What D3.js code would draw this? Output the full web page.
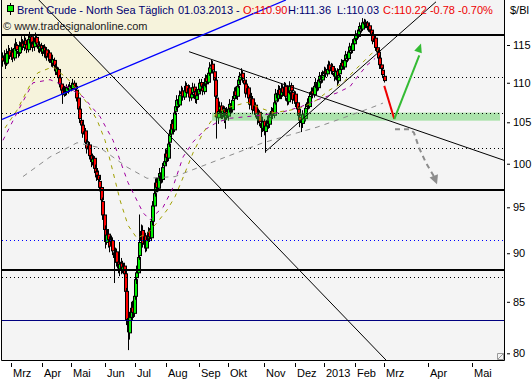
<!DOCTYPE html>
<html>
<head>
<meta charset="utf-8">
<script src="https://cdn.jsdelivr.net/npm/d3@7"></script>
<style>
  body { margin: 0; background: #fff; }
  svg { display: block; font-family: "Liberation Sans", Arial, sans-serif; }
</style>
</head>
<body>
<div id="chart"></div>
<script>
// bar index 0 = 01.03.2012 (weekdays), the first bar on screen is -6
var firstBar = -6;

var opens = [113.4,112.8,113.5,112.5,113.8,114.3,
  113.4,114.1,113.2,114.7,115.0,114.2,113.9,114.8,115.3,114.6,
  115.7,115.1,114.3,115.7,116.2,115.2,114.7,115.4,116.1,115.1,
  114.4,115.0,114.0,114.7,113.7,114.4,113.3,114.0,113.1,112.5,
  113.0,112.1,111.3,111.8,110.7,109.9,109.1,108.4,109.3,108.8,
  109.5,109.0,109.7,109.2,110.0,109.6,109.1,108.1,106.7,105.3,
  104.7,103.5,104.0,102.4,101.7,102.3,101.0,100.1,100.7,99.5,
  99.1,98.7,98.0,97.3,95.7,94.2,92.6,91.1,92.1,91.3,
  90.8,91.4,90.1,89.4,90.2,89.1,88.3,89.0,88.1,88.7,
  87.9,86.1,83.4,81.9,83.4,84.5,83.8,85.5,87.4,87.9,
  89.7,91.3,92.5,90.9,91.9,90.5,91.5,92.4,91.6,93.4,
  95.1,96.7,97.9,97.1,98.5,99.0,98.1,99.7,100.2,101.3,
  100.6,102.5,103.5,104.9,104.0,106.3,106.9,107.9,107.1,108.5,
  109.0,108.1,109.1,109.7,108.6,109.4,108.0,108.7,109.5,108.9,
  107.8,108.5,109.1,110.1,109.4,108.8,109.8,110.7,110.0,111.2,
  112.1,112.5,111.5,110.4,108.1,105.5,106.5,107.1,105.8,106.6,
  105.5,106.4,105.7,106.8,107.4,106.5,107.9,109.0,108.2,109.7,
  110.3,110.9,111.3,110.4,109.9,108.5,109.4,108.1,107.1,108.0,
  106.4,107.2,105.9,105.3,106.3,104.9,104.2,105.2,103.8,104.5,
  105.4,104.7,105.8,106.5,105.8,107.6,108.7,107.9,109.2,108.3,
  109.4,108.6,109.6,108.1,107.5,108.9,109.7,108.8,107.7,108.6,
  107.5,106.7,105.7,105.3,104.8,106.1,105.4,106.9,107.6,106.9,
  108.4,109.0,108.4,109.7,110.1,109.3,110.4,111.0,110.3,111.1,
  111.6,111.1,111.9,112.4,111.5,112.2,111.3,110.7,111.6,110.2,
  111.1,111.7,112.7,112.0,113.1,113.8,113.1,114.2,114.9,114.2,
  115.1,115.8,116.6,116.1,117.1,117.7,117.1,118.2,117.7,118.1,
  117.2,117.7,117.1,116.5,115.4,116.0,114.7,114.1,113.3,112.4,
  111.7,110.90];

var highs = [114.0,114.3,113.9,114.5,115.0,114.6,
  114.7,114.5,115.2,115.9,115.4,114.8,115.5,116.2,115.8,116.3,
  116.0,115.6,116.3,116.8,116.5,115.5,116.0,116.7,116.4,115.4,
  115.5,115.3,115.0,115.1,114.8,114.7,114.4,114.3,113.6,113.7,
  113.3,112.5,112.4,112.0,111.0,110.2,109.4,109.6,109.5,109.8,
  109.8,110.1,110.0,110.5,110.3,109.9,109.4,108.5,107.0,105.8,
  105.1,104.6,104.3,102.9,102.7,102.6,101.3,101.2,100.9,99.9,
  99.6,99.2,98.5,97.6,96.1,94.6,93.0,92.7,92.6,91.8,
  91.9,91.7,90.6,90.6,90.5,89.4,91.2,89.5,89.2,89.0,
  88.2,86.4,83.9,84.0,85.0,85.1,86.1,87.8,88.7,90.1,
  94.2,93.1,93.0,92.3,92.2,91.9,92.8,92.7,94.0,95.7,
  97.1,98.3,98.4,98.9,99.5,99.4,100.1,100.8,101.8,101.7,
  102.9,104.1,105.3,105.4,106.7,107.5,108.4,108.2,109.0,109.6,
  109.4,109.5,110.2,110.0,109.8,109.7,109.2,110.0,109.9,109.2,
  108.9,109.7,110.5,110.5,109.9,110.2,111.1,111.0,111.8,112.7,
  113.0,112.9,111.8,110.7,108.4,106.9,107.6,107.5,106.9,107.0,
  106.8,106.9,107.2,107.9,107.7,108.3,109.4,109.5,110.2,110.9,
  111.4,111.9,111.6,110.7,110.2,109.8,109.6,108.5,108.7,108.3,
  107.6,107.5,106.3,106.7,106.5,105.3,105.7,105.4,105.0,105.8,
  105.9,106.2,106.9,106.8,108.0,109.2,109.0,109.7,109.6,109.9,
  109.8,110.1,110.0,108.6,109.3,110.2,110.0,109.1,109.0,108.9,
  107.9,107.0,106.2,105.8,106.5,106.6,107.3,108.0,108.1,108.8,
  109.4,109.4,110.1,110.6,110.4,110.8,111.4,111.4,111.6,112.1,
  112.0,112.4,112.9,112.8,112.6,112.5,111.7,111.9,111.9,111.5,
  112.3,113.1,113.0,113.5,114.2,114.1,114.6,115.3,115.2,115.8,
  116.4,117.0,117.1,117.5,118.1,118.0,118.7,118.6,118.5,118.3,
  118.0,118.0,117.4,116.8,116.3,116.3,115.0,114.4,113.6,112.8,
  112.0,111.36];

var lows = [112.1,112.5,111.8,112.2,113.4,113.1,
  113.0,112.7,112.9,114.2,114.0,113.3,113.5,114.4,114.3,114.2,
  114.6,113.9,114.0,115.2,115.0,114.1,114.2,115.1,114.9,114.0,
  113.9,113.8,113.5,113.3,113.2,112.9,112.8,112.6,112.1,112.0,
  111.7,111.0,111.0,110.3,109.4,108.6,107.3,108.2,108.3,108.5,
  108.6,108.8,108.9,109.0,109.1,108.6,107.6,106.2,104.9,104.0,
  103.1,103.0,102.0,101.2,101.3,100.5,99.6,99.8,98.9,98.4,
  98.0,97.6,96.8,95.3,93.6,92.0,90.5,90.9,90.6,90.1,
  90.4,89.8,86.9,89.0,88.6,87.9,87.6,87.8,87.9,87.2,
  85.6,82.7,80.3,81.3,83.0,83.2,83.5,85.2,86.8,87.5,
  89.3,90.8,90.6,90.5,90.1,90.2,91.1,91.2,91.3,93.0,
  94.7,96.2,96.7,96.8,98.0,97.7,97.8,99.3,99.9,100.2,
  100.3,102.0,103.2,103.6,103.8,105.9,106.5,106.8,106.9,108.0,
  107.7,107.8,108.7,108.3,108.2,107.6,107.7,108.4,108.3,107.4,
  107.3,108.1,108.8,109.0,108.4,108.5,109.4,109.7,109.8,110.9,
  111.6,111.2,109.9,107.6,103.0,104.8,106.0,105.4,105.4,104.9,
  104.2,105.3,105.2,106.2,106.1,106.2,107.5,107.9,107.8,109.3,
  109.9,110.4,110.0,109.2,108.1,108.2,107.6,106.6,106.7,106.0,
  105.9,105.6,104.7,104.9,104.5,103.2,103.8,103.4,101.3,104.1,
  104.2,104.3,105.4,105.4,105.5,107.2,107.5,107.6,108.0,107.9,
  108.2,108.3,107.7,107.1,107.2,108.5,108.4,107.3,107.3,106.9,
  106.2,105.3,104.4,103.8,104.3,105.0,105.1,106.5,106.6,106.7,
  107.9,108.0,108.1,109.3,108.9,109.0,110.0,109.9,110.0,110.7,
  110.7,110.8,111.5,111.2,111.1,111.0,110.2,110.4,109.6,109.9,
  110.7,111.4,111.7,111.7,112.8,112.7,112.9,113.9,113.8,113.9,
  114.8,115.5,115.7,115.9,116.8,116.7,116.9,117.3,117.3,117.0,
  116.8,116.7,116.0,115.1,115.0,114.2,113.4,112.7,111.8,111.1,
  110.6,110.03];

var closes = [112.8,113.6,112.4,113.9,114.2,113.5,
  114.0,113.2,114.6,115.1,114.3,113.8,114.9,115.4,114.7,115.6,
  115.0,114.4,115.8,116.1,115.3,114.6,115.5,116.0,115.2,114.5,
  114.9,114.1,114.6,113.8,114.3,113.4,113.9,113.0,112.6,113.1,
  112.2,111.5,111.9,110.6,109.8,109.0,108.5,109.2,108.7,109.4,
  109.1,109.6,109.3,109.9,109.5,109.2,108.0,106.6,105.4,104.6,
  103.6,103.9,102.5,101.8,102.2,100.9,100.2,100.6,99.4,99.0,
  98.6,98.1,97.2,95.8,94.1,92.5,91.2,92.0,91.4,90.7,
  91.3,90.2,89.5,90.1,89.0,88.4,88.9,88.2,88.6,87.8,
  86.0,83.2,82.0,83.5,84.4,83.9,85.6,87.3,88.0,89.6,
  91.2,92.4,91.0,91.8,90.6,91.4,92.3,91.7,93.5,95.2,
  96.6,97.8,97.2,98.4,98.9,98.2,99.6,100.3,101.2,100.7,
  102.4,103.6,104.8,104.1,106.2,107.0,107.8,107.2,108.4,108.9,
  108.2,109.0,109.6,108.7,109.3,108.1,108.6,109.4,108.8,107.9,
  108.4,109.2,110.0,109.5,108.9,109.7,110.6,110.1,111.3,112.0,
  112.4,111.6,110.3,108.2,105.6,106.4,107.0,105.9,106.5,105.6,
  106.3,105.8,106.7,107.3,106.6,107.8,108.9,108.3,109.6,110.4,
  110.8,111.2,110.5,109.8,108.6,109.3,108.0,107.2,107.9,106.5,
  107.1,106.0,105.4,106.2,105.0,104.3,105.1,103.9,104.6,105.3,
  104.8,105.7,106.4,105.9,107.5,108.6,108.0,109.1,108.4,109.3,
  108.7,109.5,108.2,107.6,108.8,109.6,108.9,107.8,108.5,107.4,
  106.6,105.8,105.2,104.9,106.0,105.5,106.8,107.5,107.0,108.3,
  108.9,108.5,109.6,110.0,109.4,110.3,110.9,110.4,111.0,111.5,
  111.2,111.8,112.3,111.6,112.1,111.4,110.8,111.5,110.3,111.0,
  111.8,112.6,112.1,113.0,113.7,113.2,114.1,114.8,114.3,115.2,
  115.9,116.5,116.2,117.0,117.6,117.2,118.1,117.8,118.0,117.3,
  117.6,117.0,116.4,115.5,115.9,114.6,114.0,113.2,112.3,111.8,
  111.00,110.22];

// averages: [bar index, price]
var maFast = [[-4,104.3],[4.4,106.5],[13.5,109.7],[19,111.3],[29.6,112.1],[34.5,111.3],[39.4,110.6],
  [46.4,109.1],[53.4,107.4],[60.4,105.3],[66,102.8],[70.9,99.5],[76.5,95.8],[82.1,93.0],[88.4,91.6],
  [96.1,92.2],[102.4,93.3],[109.4,94.7],[115,96.2],[119.9,98.1],[127.6,101.3],[134.6,103.7],
  [144.4,106.2],[153.5,106.9],[165.4,107.5],[174.5,106.8],[183.6,106.2],[195.5,106.5],[204.6,106.9],
  [214.3,107.8],[223.4,109.1],[232.6,110.0],[237.4,111.0],[246.5,112.7],[252.8,113.9],[257,114.3]];
var maMid = [[-5.4,102.8],[6.5,106.9],[15.6,110.0],[27.5,110.4],[39.4,109.5],[50.6,108.2],[62.5,105.7],
  [71.6,102.8],[76.5,100.4],[82.1,97.8],[87,96.2],[92.6,94.4],[97.5,93.6],[101,94.2],[106.6,95.0],
  [112.9,97.0],[120.6,100.8],[127.6,102.6],[136,104.1],[144.4,105.0],[153.5,105.5],[165.4,105.7],
  [176.6,105.9],[190.6,106.3],[202.5,106.9],[214.3,107.8],[228.4,108.7],[237.4,109.5],[242.3,110.7],
  [249.3,112.3],[255,113.2]];
var maSlow = [[8.6,98.5],[27.5,100.8],[46.4,102.5],[62.5,101.9],[81.4,99.6],[95.4,98.3],[115,98.5],
  [144.4,100.4],[176.6,102.5],[200.4,103.7],[214.4,104.4],[230.4,105.4],[253.5,106.9],[260.5,107.4]];

// horizontal levels
var thickLevels = [116.36, 96.9, 88.2];
var dottedLevels = [110.7, 106.2, 101.9, 87.5];
var blueDottedLevel = 91.4;
var navyLevel = 83.2;
var zoneBars = [140.9, 342.4];
var zonePrices = [105.2, 106.2];

// trend lines [bar index, price]
var blueLine = [[-6.1,105.35],[192.6,121.26]];
var fanLine = [[19.5,121.3],[262.6,79.37]];
var downLine = [[124.8,114.1],[345.2,100.4]];
var upLine = [[178,101.4],[297.6,121.0]];

// forecast arrows
var redLeg = [[261.4,109.6],[268.4,105.4]];
var greenLeg = [[268.4,105.4],[287.1,115.2]];
var greyLeg = [[268.9,104.13],[279.4,104.13],[282.2,103.7],[285.7,101.9],[290.6,100.1],[296.2,98.5],[298.3,97.6]];

var monthLabels = ["Mrz","Apr","Mai","Jun","Jul","Aug","Sep","Okt","Nov","Dez","2013","Feb","Mrz","Apr","Mai"];
var monthBars = [0,22,42,66,87,109,132,152,177,199,219,241,261,292,323];
var priceTicks = [80,85,90,95,100,105,110,115];

var svgWidth = 532, svgHeight = 380;
var plotLeft = 2, plotRight = 504, plotTop = 0, plotBottom = 360;

var svg = d3.select("#chart").append("svg")
  .attr("width", svgWidth)
  .attr("height", svgHeight);

var xScale = d3.scaleLinear().domain([0, 261]).range([10.7, 383.7]);
var yScale = d3.scaleLog().domain([80, 115]).range([353.3, 45]);

svg.append("defs").append("clipPath").attr("id", "plotClip")
  .append("rect")
  .attr("x", plotLeft).attr("y", plotTop)
  .attr("width", plotRight - plotLeft).attr("height", plotBottom - plotTop);

svg.append("rect")
  .attr("x", plotLeft).attr("y", plotTop)
  .attr("width", plotRight - plotLeft).attr("height", plotBottom - plotTop)
  .attr("fill", "#f4f4f4");

var plot = svg.append("g").attr("clip-path", "url(#plotClip)");

function px(d) { return [xScale(d[0]), yScale(d[1])]; }

// x on a line (pixel space) for a given y
function xAtY(line, yy) {
  var a = px(line[0]), b = px(line[1]);
  return a[0] + (yy - a[1]) * (b[0] - a[0]) / (b[1] - a[1]);
}
function yAtX(line, xx) {
  var a = px(line[0]), b = px(line[1]);
  return a[1] + (xx - a[0]) * (b[1] - a[1]) / (b[0] - a[0]);
}

// beige fan area between blue and black line
var stripY = yScale(thickLevels[0]);
var b0 = px(blueLine[0]), b1 = px(blueLine[1]), f0 = px(fanLine[0]), f1 = px(fanLine[1]);
var mb = (b1[1] - b0[1]) / (b1[0] - b0[0]), mf = (f1[1] - f0[1]) / (f1[0] - f0[0]);
var ix = (f0[1] - b0[1] + mb * b0[0] - mf * f0[0]) / (mb - mf);
var iy = b0[1] + mb * (ix - b0[0]);
var beige = [[plotLeft, plotTop], [xAtY(blueLine, plotTop), plotTop], [xAtY(blueLine, stripY), stripY],
  [xAtY(fanLine, stripY), stripY], [ix, iy], [plotLeft, yAtX(blueLine, plotLeft)]];
plot.append("path")
  .attr("d", d3.line()(beige))
  .attr("fill", "#f6f3dc");

// candles
var bars = closes.map(function(c, i) {
  return {idx: firstBar + i, open: opens[i], high: highs[i], low: lows[i], close: c};
});

var candles = plot.append("g").selectAll("g")
  .data(bars)
  .enter()
  .append("g");

candles.append("line")
  .attr("x1", d => Math.round(xScale(d.idx)) + 0.5)
  .attr("x2", d => Math.round(xScale(d.idx)) + 0.5)
  .attr("y1", d => yScale(d.high))
  .attr("y2", d => yScale(d.low))
  .attr("stroke", "#000")
  .attr("stroke-width", 1);

candles.append("rect")
  .attr("x", d => Math.round(xScale(d.idx)) - 1)
  .attr("y", d => Math.min(yScale(d.open), yScale(d.close)))
  .attr("width", 4)
  .attr("height", d => Math.max(1, Math.abs(yScale(d.open) - yScale(d.close))))
  .attr("fill", "#000");

candles.filter(d => Math.abs(yScale(d.open) - yScale(d.close)) > 2)
  .append("rect")
  .attr("x", d => Math.round(xScale(d.idx)))
  .attr("y", d => Math.min(yScale(d.open), yScale(d.close)) + 1)
  .attr("width", 2)
  .attr("height", d => Math.abs(yScale(d.open) - yScale(d.close)) - 2)
  .attr("fill", d => d.close >= d.open ? "#00f000" : "#ff0000");

// support zone
plot.append("rect")
  .attr("x", xScale(zoneBars[0]))
  .attr("y", yScale(zonePrices[1]))
  .attr("width", xScale(zoneBars[1]) - xScale(zoneBars[0]))
  .attr("height", yScale(zonePrices[0]) - yScale(zonePrices[1]))
  .attr("fill", "rgb(70,200,70)")
  .attr("opacity", 0.42);

// horizontal levels
function hLine(price, color, width, dash) {
  var yy = Math.round(yScale(price)) + (width % 2 ? 0.5 : 0);
  plot.append("line")
    .attr("x1", plotLeft).attr("x2", plotRight)
    .attr("y1", yy).attr("y2", yy)
    .attr("stroke", color)
    .attr("stroke-width", width)
    .attr("stroke-dasharray", dash || null);
}
dottedLevels.forEach(p => hLine(p, "#000", 1, "1,3"));
hLine(blueDottedLevel, "#0000ff", 1, "1,3");
hLine(navyLevel, "#000080", 1);
thickLevels.forEach(p => hLine(p, "#000", 2));

// trend lines
var line = d3.line().x(d => xScale(d[0])).y(d => yScale(d[1]));
plot.append("path").attr("d", line(blueLine)).attr("stroke", "#0000ff").attr("stroke-width", 1.3).attr("fill", "none");
[fanLine, downLine, upLine].forEach(function(l) {
  plot.append("path").attr("d", line(l)).attr("stroke", "#000").attr("stroke-width", 1).attr("fill", "none");
});

// moving averages
plot.append("path").attr("d", line(maSlow)).attr("stroke", "#8c8c8c").attr("stroke-width", 1)
  .attr("stroke-dasharray", "5,5").attr("fill", "none");
plot.append("path").attr("d", line(maMid)).attr("stroke", "#a000a0").attr("stroke-width", 1)
  .attr("stroke-dasharray", "4,5").attr("fill", "none");
plot.append("path").attr("d", line(maFast)).attr("stroke", "#a0a000").attr("stroke-width", 1)
  .attr("stroke-dasharray", "4,5").attr("fill", "none");

// forecast arrows
function arrowHead(pts, color, len, half) {
  var a = px(pts[pts.length - 2]), b = px(pts[pts.length - 1]);
  var dx = b[0] - a[0], dy = b[1] - a[1], n = Math.sqrt(dx * dx + dy * dy);
  dx /= n; dy /= n;
  var bx = b[0] - dx * len, by = b[1] - dy * len;
  plot.append("path")
    .attr("d", d3.line()([[b[0], b[1]], [bx - dy * half, by + dx * half], [bx + dy * half, by - dx * half]]) + "Z")
    .attr("fill", color);
}
plot.append("path").attr("d", line(redLeg)).attr("stroke", "#ee0000").attr("stroke-width", 2).attr("fill", "none");
plot.append("path").attr("d", line(greenLeg.slice(0, 1).concat([[greenLeg[1][0] - 1.2, greenLeg[1][1] - 1.6]])))
  .attr("stroke", "#33bb33").attr("stroke-width", 2).attr("fill", "none");
arrowHead(greenLeg, "#33bb33", 9, 4);
plot.append("path").attr("d", line(greyLeg.slice(0, -1))).attr("stroke", "#8c8c8c").attr("stroke-width", 2)
  .attr("stroke-dasharray", "5,4").attr("fill", "none");
arrowHead(greyLeg, "#8c8c8c", 9, 4.5);

// frame
svg.append("path")
  .attr("d", "M1.5,0V360.5H504.5V0")
  .attr("fill", "none").attr("stroke", "#000");
svg.append("path")
  .attr("d", "M497.5,353.5h6v6h-6zM498,359L503.5,353.5")
  .attr("fill", "none").attr("stroke", "#999");

// price axis
var yAxis = svg.append("g")
  .attr("transform", "translate(507,0)")
  .call(d3.axisRight(yScale).tickValues(priceTicks).tickSize(3).tickPadding(3).tickFormat(d3.format("d")));
yAxis.select(".domain").remove();
yAxis.selectAll("text").attr("font-size", "11px").attr("font-family", "Liberation Sans, Arial, sans-serif").attr("fill", "#000");

svg.append("text").attr("x", 510).attr("y", 14).attr("font-size", "11px").text("$/Bl");

// month axis
var xAxis = svg.append("g").attr("transform", "translate(0,362)");
monthBars.forEach(function(b, i) {
  var xx = Math.round(xScale(b)) + 0.5;
  xAxis.append("line").attr("x1", xx).attr("x2", xx).attr("y1", 1).attr("y2", 5).attr("stroke", "#000");
  xAxis.append("text").attr("x", xx + 1.5).attr("y", 15).attr("font-size", "11px").text(monthLabels[i]);
});

// title
svg.append("line").attr("x1", 10.5).attr("x2", 10.5).attr("y1", 3).attr("y2", 15).attr("stroke", "#000");
svg.append("rect").attr("x", 7.5).attr("y", 5.5).attr("width", 6).attr("height", 6)
  .attr("fill", "#00ee00").attr("stroke", "#000");
var titleParts = [
  {x: 17, text: "Brent Crude - North Sea Täglich", color: "#000070"},
  {x: 178, text: "01.03.2013 -", color: "#000070"},
  {x: 243, text: "O:110.90", color: "#ee0000"},
  {x: 288, text: "H:111.36", color: "#000070"},
  {x: 337, text: "L:110.03", color: "#000070"},
  {x: 383, text: "C:110.22 -0.78 -0.70%", color: "#ee0000"}
];
titleParts.forEach(function(t) {
  svg.append("text").attr("x", t.x).attr("y", 14).attr("font-size", "11px")
    .attr("fill", t.color).text(t.text);
});
svg.append("text").attr("x", 3).attr("y", 30).attr("font-size", "11px").attr("fill", "#222")
  .text("© www.tradesignalonline.com");
</script>
</body>
</html>
